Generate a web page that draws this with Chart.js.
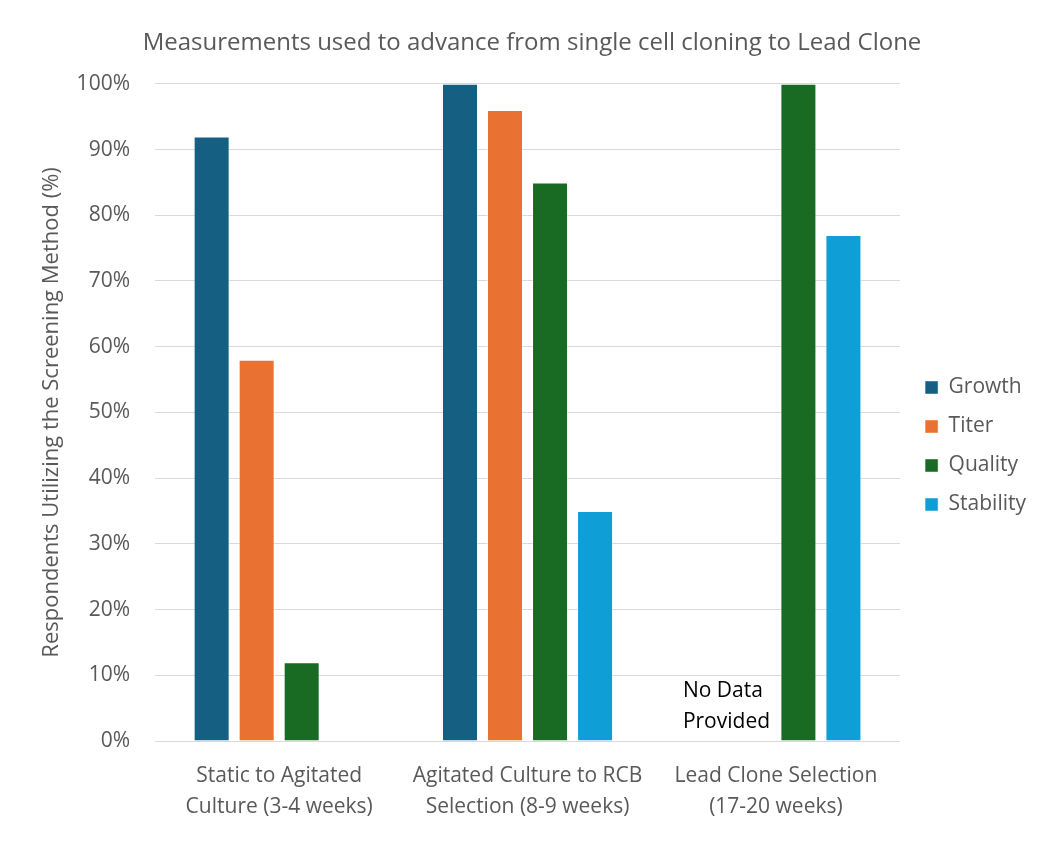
<!DOCTYPE html>
<html>
<head>
<meta charset="utf-8">
<script src="https://cdn.jsdelivr.net/npm/chart.js@4.4.1/dist/chart.umd.min.js"></script>
<style>
  html, body { margin: 0; padding: 0; background: #fff; }
  #wrap { width: 1062px; height: 842px; }
</style>
</head>
<body>
<div id="wrap"><canvas id="myChart"></canvas></div>
<script>
const categories = [
    ["Static to Agitated", "Culture (3-4 weeks)"],
    ["Agitated Culture to RCB", "Selection (8-9 weeks)"],
    ["Lead Clone Selection", "(17-20 weeks)"]
];
const growth = [92, 100, null];
const titer = [58, 96, null];
const quality = [12, 85, 100];
const stability = [null, 35, 77];
const yTicks = [0, 10, 20, 30, 40, 50, 60, 70, 80, 90, 100];

const grey = "#595959";
const fontName = "'Open Sans', 'Noto Sans', sans-serif";

// draws the "No Data Provided" note in the third group
const noDataNote = {
    id: "noDataNote",
    afterDatasetsDraw(chart) {
        const ctx = chart.ctx;
        const x = chart.scales.x.getPixelForValue(2);
        const y0 = chart.scales.y.getPixelForValue(0);
        ctx.save();
        ctx.fillStyle = "#000";
        ctx.font = "21px " + fontName;
        ctx.textAlign = "left";
        ctx.textBaseline = "middle";
        ctx.fillText("No Data", x - 93, y0 - 50);
        ctx.fillText("Provided", x - 93, y0 - 19);
        ctx.restore();
    }
};

// nudge the legend a bit lower and further from the plot, like the original
const legendShift = {
    id: "legendShift",
    afterLayout(chart) {
        const lg = chart.legend;
        const dx = 7, dy = 25;
        lg.left += dx; lg.right += dx;
        lg.top += dy; lg.bottom += dy;
    }
};

const myChart = document.getElementById("myChart");
new Chart(myChart, {
    type: "bar",
    data: {
        labels: categories,
        datasets: [
            { label: "Growth", data: growth, backgroundColor: "#156082" },
            { label: "Titer", data: titer, backgroundColor: "#E97132" },
            { label: "Quality", data: quality, backgroundColor: "#196B24" },
            { label: "Stability", data: stability, backgroundColor: "#0F9ED5" }
        ]
    },
    options: {
        responsive: true,
        maintainAspectRatio: false,
        animation: false,
        datasets: {
            bar: {
                barPercentage: 0.8,
                categoryPercentage: 0.725,
                borderColor: "rgba(255,255,255,0.45)",
                borderWidth: 1
            }
        },
        layout: { padding: { left: 35, right: 33, top: 0, bottom: 0 } },
        plugins: {
            title: {
                display: true,
                text: "Measurements used to advance from single cell cloning to Lead Clone",
                color: grey,
                font: { family: fontName, size: 24, weight: "normal" },
                padding: { top: 29, bottom: 26 }
            },
            legend: {
                position: "right",
                labels: {
                    color: grey,
                    font: { family: fontName, size: 21 },
                    boxWidth: 13,
                    boxHeight: 13,
                    padding: 18
                }
            },
            tooltip: { enabled: false }
        },
        scales: {
            x: {
                afterFit(scale) { scale.height = 101; },
                grid: { display: false, drawTicks: false },
                border: { display: false },
                ticks: {
                    color: grey,
                    font: { family: fontName, size: 21, lineHeight: 1.476 },
                    padding: 20,
                    maxRotation: 0
                }
            },
            y: {
                min: 0,
                max: 100,
                afterFit(scale) { scale.width = 120; },
                afterBuildTicks(scale) { scale.ticks = yTicks.map(v => ({ value: v })); },
                grid: { color: "#d9d9d9", drawTicks: false },
                border: { display: false },
                ticks: {
                    color: grey,
                    font: { family: fontName, size: 21 },
                    padding: 25,
                    callback: v => v + "%"
                },
                title: {
                    display: true,
                    text: "Respondents Utilizing the Screening Method (%)",
                    color: grey,
                    font: { family: fontName, size: 22 }
                }
            }
        }
    },
    plugins: [noDataNote, legendShift]
});
</script>
</body>
</html>
